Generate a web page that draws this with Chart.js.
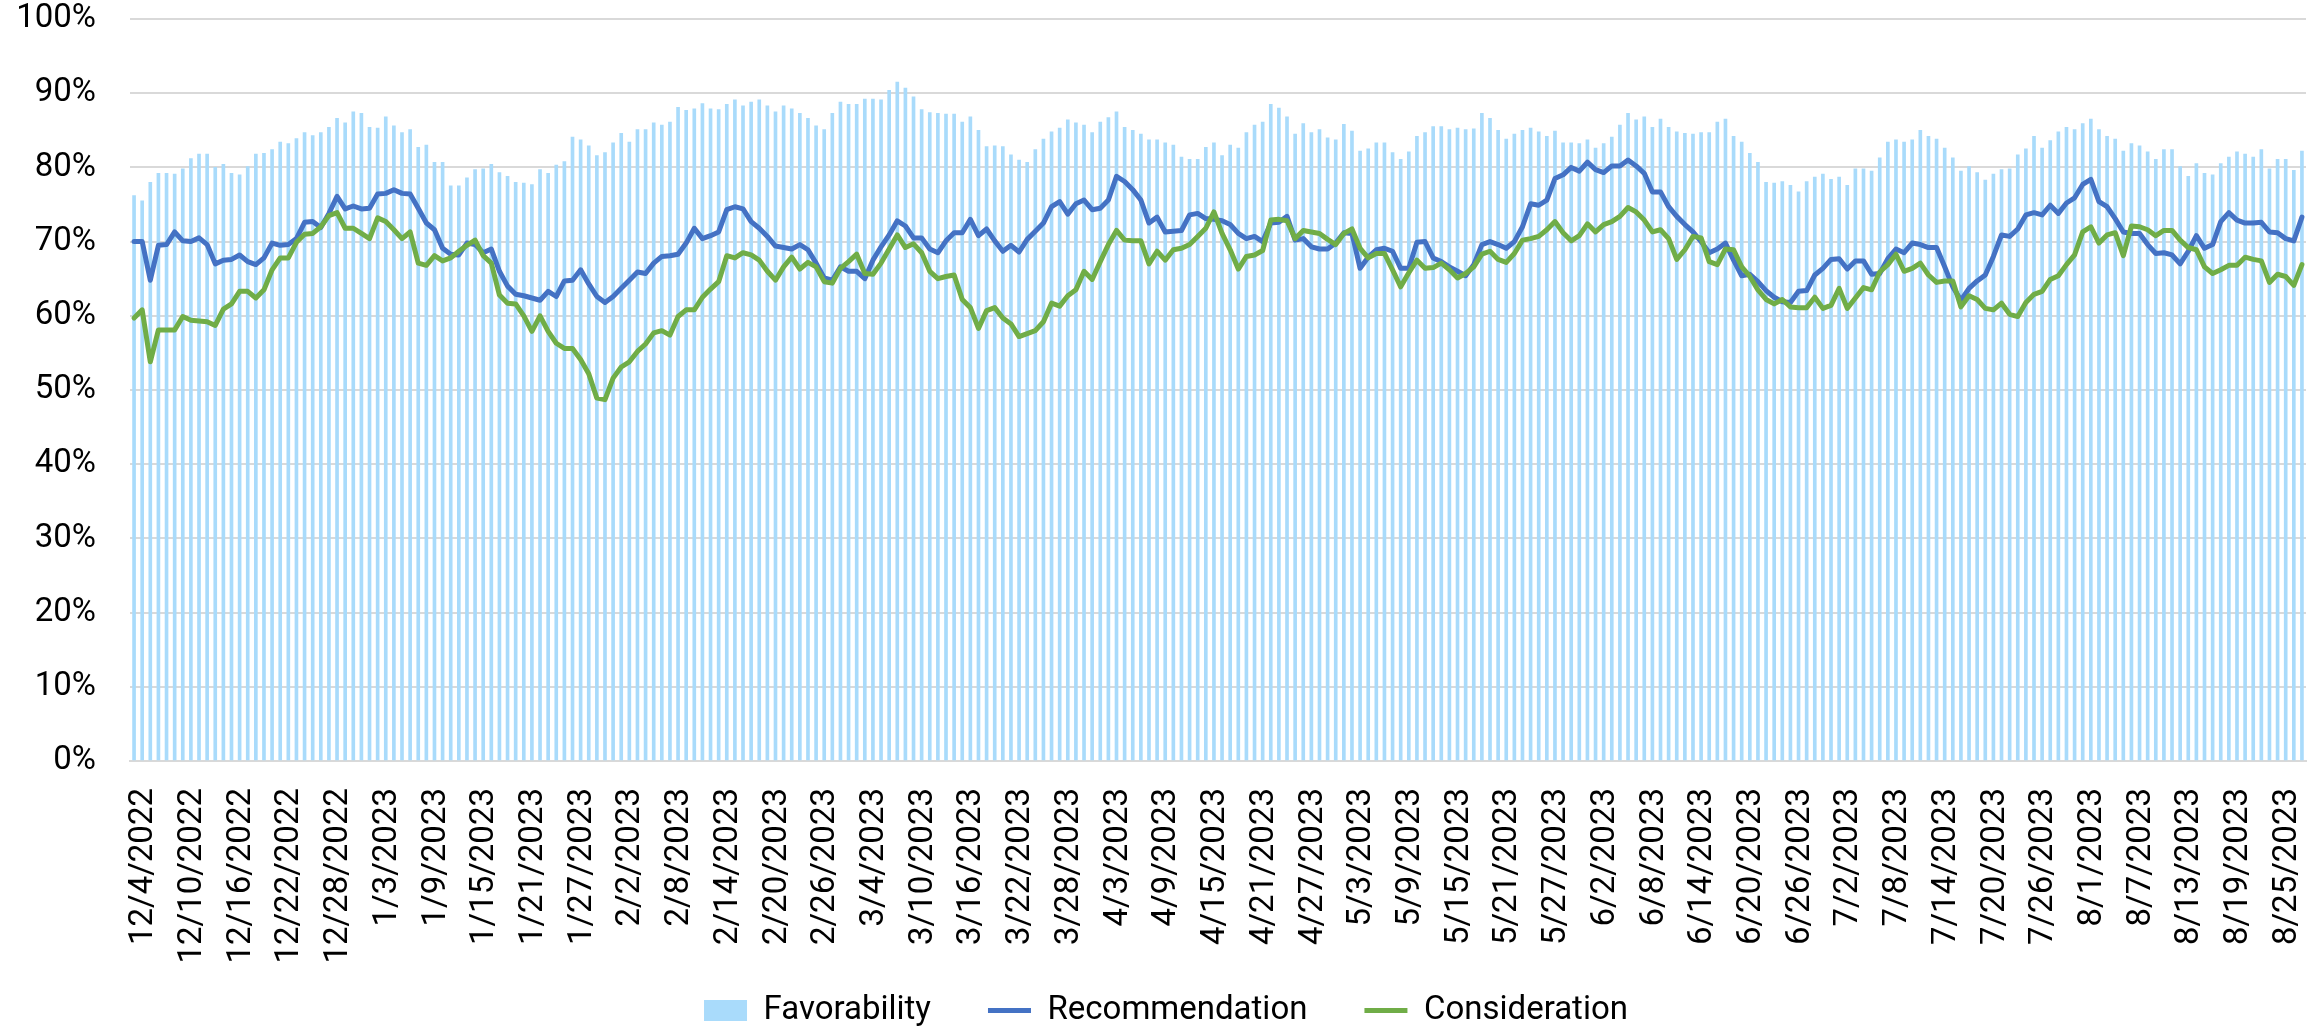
<!DOCTYPE html>
<html><head><meta charset="utf-8">
<script src="https://cdn.jsdelivr.net/npm/chart.js@4.4.0/dist/chart.umd.min.js"></script>
<style>html,body{margin:0;padding:0;background:#fff}#wrap{width:2318px;height:1031px}</style>
</head><body><div id="wrap"><canvas id="c" width="2318" height="1031"></canvas></div>
<script>
const categories = [
"12/4/2022","12/5/2022","12/6/2022","12/7/2022","12/8/2022","12/9/2022","12/10/2022","12/11/2022","12/12/2022","12/13/2022","12/14/2022","12/15/2022","12/16/2022","12/17/2022","12/18/2022","12/19/2022","12/20/2022","12/21/2022","12/22/2022","12/23/2022","12/24/2022","12/25/2022","12/26/2022","12/27/2022","12/28/2022","12/29/2022","12/30/2022","12/31/2022",
"1/1/2023","1/2/2023","1/3/2023","1/4/2023","1/5/2023","1/6/2023","1/7/2023","1/8/2023","1/9/2023","1/10/2023","1/11/2023","1/12/2023","1/13/2023","1/14/2023","1/15/2023","1/16/2023","1/17/2023","1/18/2023","1/19/2023","1/20/2023","1/21/2023","1/22/2023","1/23/2023","1/24/2023","1/25/2023","1/26/2023","1/27/2023","1/28/2023","1/29/2023","1/30/2023","1/31/2023",
"2/1/2023","2/2/2023","2/3/2023","2/4/2023","2/5/2023","2/6/2023","2/7/2023","2/8/2023","2/9/2023","2/10/2023","2/11/2023","2/12/2023","2/13/2023","2/14/2023","2/15/2023","2/16/2023","2/17/2023","2/18/2023","2/19/2023","2/20/2023","2/21/2023","2/22/2023","2/23/2023","2/24/2023","2/25/2023","2/26/2023","2/27/2023","2/28/2023",
"3/1/2023","3/2/2023","3/3/2023","3/4/2023","3/5/2023","3/6/2023","3/7/2023","3/8/2023","3/9/2023","3/10/2023","3/11/2023","3/12/2023","3/13/2023","3/14/2023","3/15/2023","3/16/2023","3/17/2023","3/18/2023","3/19/2023","3/20/2023","3/21/2023","3/22/2023","3/23/2023","3/24/2023","3/25/2023","3/26/2023","3/27/2023","3/28/2023","3/29/2023","3/30/2023","3/31/2023",
"4/1/2023","4/2/2023","4/3/2023","4/4/2023","4/5/2023","4/6/2023","4/7/2023","4/8/2023","4/9/2023","4/10/2023","4/11/2023","4/12/2023","4/13/2023","4/14/2023","4/15/2023","4/16/2023","4/17/2023","4/18/2023","4/19/2023","4/20/2023","4/21/2023","4/22/2023","4/23/2023","4/24/2023","4/25/2023","4/26/2023","4/27/2023","4/28/2023","4/29/2023","4/30/2023",
"5/1/2023","5/2/2023","5/3/2023","5/4/2023","5/5/2023","5/6/2023","5/7/2023","5/8/2023","5/9/2023","5/10/2023","5/11/2023","5/12/2023","5/13/2023","5/14/2023","5/15/2023","5/16/2023","5/17/2023","5/18/2023","5/19/2023","5/20/2023","5/21/2023","5/22/2023","5/23/2023","5/24/2023","5/25/2023","5/26/2023","5/27/2023","5/28/2023","5/29/2023","5/30/2023","5/31/2023",
"6/1/2023","6/2/2023","6/3/2023","6/4/2023","6/5/2023","6/6/2023","6/7/2023","6/8/2023","6/9/2023","6/10/2023","6/11/2023","6/12/2023","6/13/2023","6/14/2023","6/15/2023","6/16/2023","6/17/2023","6/18/2023","6/19/2023","6/20/2023","6/21/2023","6/22/2023","6/23/2023","6/24/2023","6/25/2023","6/26/2023","6/27/2023","6/28/2023","6/29/2023","6/30/2023",
"7/1/2023","7/2/2023","7/3/2023","7/4/2023","7/5/2023","7/6/2023","7/7/2023","7/8/2023","7/9/2023","7/10/2023","7/11/2023","7/12/2023","7/13/2023","7/14/2023","7/15/2023","7/16/2023","7/17/2023","7/18/2023","7/19/2023","7/20/2023","7/21/2023","7/22/2023","7/23/2023","7/24/2023","7/25/2023","7/26/2023","7/27/2023","7/28/2023","7/29/2023","7/30/2023","7/31/2023",
"8/1/2023","8/2/2023","8/3/2023","8/4/2023","8/5/2023","8/6/2023","8/7/2023","8/8/2023","8/9/2023","8/10/2023","8/11/2023","8/12/2023","8/13/2023","8/14/2023","8/15/2023","8/16/2023","8/17/2023","8/18/2023","8/19/2023","8/20/2023","8/21/2023","8/22/2023","8/23/2023","8/24/2023","8/25/2023","8/26/2023","8/27/2023","8/28/2023"
];

const tickLabels = ["12/4/2022","12/10/2022","12/16/2022","12/22/2022","12/28/2022","1/3/2023","1/9/2023","1/15/2023","1/21/2023","1/27/2023","2/2/2023","2/8/2023","2/14/2023","2/20/2023","2/26/2023","3/4/2023","3/10/2023","3/16/2023","3/22/2023","3/28/2023","4/3/2023","4/9/2023","4/15/2023","4/21/2023","4/27/2023","5/3/2023","5/9/2023","5/15/2023","5/21/2023","5/27/2023","6/2/2023","6/8/2023","6/14/2023","6/20/2023","6/26/2023","7/2/2023","7/8/2023","7/14/2023","7/20/2023","7/26/2023","8/1/2023","8/7/2023","8/13/2023","8/19/2023","8/25/2023"];

const favorability = [
76.2,75.5,78.0,79.2,79.2,79.1,79.8,81.2,81.8,81.8,80.0,80.4,79.2,79.0,80.1,81.8,81.9,82.4,83.4,83.2,83.9,84.7,84.3,84.7,85.4,
86.6,86.0,87.5,87.3,85.4,85.3,86.8,85.6,84.7,85.1,82.7,83.0,80.7,80.7,77.5,77.5,78.6,79.7,79.8,80.4,79.3,78.8,78.0,77.9,
77.7,79.7,79.2,80.3,80.8,84.1,83.7,82.9,81.6,82.0,83.3,84.6,83.4,85.1,85.1,86.0,85.7,86.1,88.1,87.7,87.9,88.6,87.9,87.8,88.5,
89.1,88.3,88.8,89.1,88.3,87.5,88.3,87.9,87.3,86.6,85.6,85.1,87.3,88.8,88.5,88.5,89.2,89.2,89.1,90.4,91.5,90.7,89.5,87.8,
87.4,87.3,87.2,87.2,86.1,86.8,85.0,82.8,82.9,82.8,81.7,81.0,80.7,82.4,83.8,84.8,85.3,86.4,86.0,85.7,84.7,86.1,86.7,87.5,85.4,
85.0,84.5,83.7,83.7,83.3,83.0,81.4,81.1,81.1,82.7,83.3,81.6,83.0,82.6,84.7,85.7,86.1,88.5,88.0,86.8,84.5,85.9,84.7,85.1,84.0,
83.7,85.8,84.9,82.2,82.5,83.3,83.3,82.0,81.1,82.1,84.2,84.7,85.5,85.5,85.1,85.3,85.1,85.2,87.3,86.6,85.0,83.8,84.5,85.0,
85.3,84.8,84.2,84.9,83.3,83.3,83.2,83.7,82.6,83.2,84.1,85.7,87.3,86.4,86.8,85.4,86.5,85.4,84.8,84.6,84.5,84.7,84.7,86.1,86.5,
84.2,83.4,81.9,80.7,78.0,77.9,78.1,77.6,76.7,78.1,78.7,79.1,78.4,78.7,77.6,79.8,79.8,79.5,81.3,83.4,83.7,83.4,83.7,85.0,84.2,
83.8,82.6,81.3,79.5,80.1,79.3,78.3,79.1,79.7,79.8,81.7,82.5,84.2,82.6,83.6,84.8,85.4,85.1,85.9,86.5,85.1,84.2,83.8,82.2,
83.2,82.9,82.1,81.1,82.4,82.4,80.1,78.8,80.5,79.2,79.0,80.5,81.4,82.1,81.8,81.4,82.4,79.8,81.1,81.1,79.6,82.2
];

const recommendation = [
70.0,70.0,64.8,69.5,69.6,71.3,70.1,70.0,70.5,69.6,67.0,67.5,67.6,68.2,67.3,66.9,67.8,69.8,69.5,69.6,70.4,72.6,72.7,71.9,73.8,
76.1,74.4,74.8,74.4,74.5,76.4,76.5,77.0,76.5,76.4,74.5,72.5,71.6,69.1,68.3,68.2,69.8,69.6,68.5,69.0,66.0,64.0,62.9,62.7,
62.4,62.1,63.3,62.6,64.7,64.8,66.2,64.3,62.6,61.8,62.6,63.7,64.8,65.9,65.7,67.1,68.0,68.1,68.3,69.8,71.8,70.4,70.8,71.3,74.3,
74.7,74.4,72.7,71.8,70.7,69.4,69.2,69.0,69.6,68.9,67.1,65.1,64.8,66.6,66.0,66.0,65.0,67.5,69.3,70.9,72.8,72.1,70.5,70.5,
69.0,68.5,70.1,71.2,71.2,73.0,70.8,71.7,70.1,68.7,69.5,68.6,70.3,71.4,72.5,74.7,75.4,73.7,75.1,75.6,74.3,74.5,75.6,78.8,78.1,
77.0,75.6,72.5,73.3,71.3,71.4,71.5,73.6,73.8,73.1,73.0,72.8,72.3,71.1,70.4,70.7,70.0,72.5,72.6,73.4,70.2,70.4,69.3,69.0,69.0,
69.8,71.2,71.1,66.4,67.9,68.9,69.1,68.7,66.4,66.4,69.9,70.0,67.8,67.3,66.6,66.0,65.4,66.9,69.6,70.0,69.6,69.1,70.0,72.0,
75.1,74.9,75.6,78.5,79.0,80.0,79.5,80.7,79.7,79.3,80.2,80.2,81.0,80.2,79.2,76.7,76.7,74.7,73.4,72.3,71.3,70.0,68.5,69.0,69.8,
67.5,65.4,65.6,64.6,63.4,62.5,61.9,61.8,63.3,63.4,65.5,66.4,67.6,67.7,66.3,67.4,67.4,65.6,65.7,67.7,69.0,68.5,69.8,69.6,69.2,
69.2,66.6,63.9,62.1,63.7,64.7,65.5,68.0,70.9,70.7,71.7,73.6,73.9,73.6,74.9,73.8,75.2,75.9,77.7,78.4,75.4,74.7,73.1,71.3,
71.1,71.1,69.6,68.4,68.5,68.2,67.0,68.7,70.8,69.1,69.6,72.7,73.9,72.9,72.5,72.5,72.6,71.3,71.2,70.4,70.1,73.3
];

const consideration = [
59.7,60.8,53.8,58.1,58.1,58.1,59.9,59.4,59.3,59.2,58.7,60.9,61.6,63.3,63.3,62.4,63.5,66.2,67.8,67.8,69.9,71.0,71.1,72.0,73.5,
73.9,71.8,71.8,71.1,70.4,73.2,72.7,71.6,70.4,71.3,67.1,66.8,68.1,67.4,67.8,68.7,69.5,70.2,68.1,67.1,62.8,61.7,61.6,60.0,
57.9,60.0,57.9,56.3,55.6,55.6,54.1,52.2,48.9,48.7,51.6,53.1,53.8,55.2,56.2,57.7,58.0,57.4,59.9,60.8,60.8,62.5,63.6,64.6,68.1,
67.8,68.5,68.2,67.5,66.0,64.8,66.6,67.9,66.3,67.2,66.6,64.6,64.4,66.4,67.3,68.3,65.7,65.6,67.1,69.0,70.9,69.2,69.7,68.5,
66.0,65.0,65.3,65.5,62.2,61.1,58.3,60.7,61.1,59.7,58.9,57.2,57.6,58.0,59.2,61.7,61.3,62.7,63.5,66.0,64.9,67.3,69.6,71.5,70.2,
70.1,70.1,67.0,68.7,67.5,68.9,69.1,69.6,70.7,71.8,74.0,71.1,68.9,66.3,68.0,68.2,68.8,72.9,73.0,72.8,70.4,71.5,71.3,71.1,70.3,
69.6,71.1,71.7,69.1,67.8,68.4,68.4,66.2,63.9,65.8,67.5,66.4,66.5,67.1,66.2,65.1,65.7,66.6,68.3,68.7,67.6,67.2,68.4,70.2,
70.4,70.7,71.6,72.7,71.2,70.1,70.8,72.4,71.3,72.3,72.7,73.4,74.6,74.0,72.9,71.3,71.6,70.4,67.6,68.9,70.7,70.5,67.3,66.9,69.0,
68.9,66.6,65.3,63.5,62.2,61.6,62.2,61.2,61.1,61.1,62.5,61.0,61.4,63.7,61.0,62.4,63.8,63.5,65.9,66.9,68.3,66.0,66.4,67.1,65.5,
64.5,64.7,64.7,61.2,62.7,62.2,61.0,60.8,61.7,60.2,59.9,61.8,62.9,63.3,64.9,65.4,66.9,68.2,71.3,72.0,69.8,70.9,71.2,68.1,
72.1,72.0,71.6,70.8,71.5,71.5,70.2,69.2,68.9,66.6,65.7,66.2,66.8,66.8,67.9,67.6,67.4,64.5,65.6,65.3,64.1,66.9
];

const yTicks = [0,10,20,30,40,50,60,70,80,90,100];

const font = { family: "Roboto, sans-serif", size: 33 };

new Chart(document.getElementById('c').getContext('2d'), {
  type: 'bar',
  data: {
    labels: categories,
    datasets: [
      { type: 'bar', label: 'Favorability', data: favorability, backgroundColor: '#A9DBFB',
        barThickness: 3, order: 2, pointStyle: 'rect', borderWidth: 0 },
      { type: 'line', label: 'Recommendation', data: recommendation, borderColor: '#4472C4',
        backgroundColor: '#4472C4', borderWidth: 5, pointRadius: 0, tension: 0, order: 1,
        pointStyle: 'line', borderJoinStyle: 'round', borderCapStyle: 'round' },
      { type: 'line', label: 'Consideration', data: consideration, borderColor: '#70AD47',
        backgroundColor: '#70AD47', borderWidth: 5, pointRadius: 0, tension: 0, order: 0,
        pointStyle: 'line', borderJoinStyle: 'round', borderCapStyle: 'round' }
    ]
  },
  options: {
    responsive: false, animation: false, devicePixelRatio: 1,
    layout: { autoPadding: false, padding: { left: 26, right: 12, top: 19, bottom: -6 } },
    plugins: {
      legend: {
        position: 'bottom', fullSize: true,
        labels: { usePointStyle: true, pointStyleWidth: 43, boxHeight: 21, font: font, color: '#000',
          padding: 57, sort: (a, b) => a.datasetIndex - b.datasetIndex }
      },
      tooltip: { enabled: false }
    },
    scales: {
      x: {
        grid: { display: false, drawTicks: false },
        border: { color: '#D9D9D9', width: 2 },
        ticks: { autoSkip: false, maxRotation: 90, minRotation: 90, padding: 27, labelOffset: 10,
          font: font, color: '#000',
          callback: function (v) { const l = this.getLabelForValue(v); return tickLabels.includes(l) ? l : ''; } },
        afterFit: (s) => {
          s.height = 176; s.paddingLeft = 0; s.paddingRight = 0;
          s._computeLabelArea = () => undefined;
        }
      },
      y: {
        min: 0, max: 100,
        afterBuildTicks: (s) => { s.ticks = yTicks.map(v => ({ value: v })); },
        ticks: { callback: (v) => v + '%', padding: 34, font: font, color: '#000' },
        grid: { color: '#D9D9D9', lineWidth: 2, drawTicks: false },
        border: { display: false },
        afterFit: (s) => {
          s.width = 104; s.paddingTop = 0; s.paddingBottom = 0;
          s._computeLabelArea = () => undefined;
        }
      }
    }
  }
});
</script>
</body></html>
